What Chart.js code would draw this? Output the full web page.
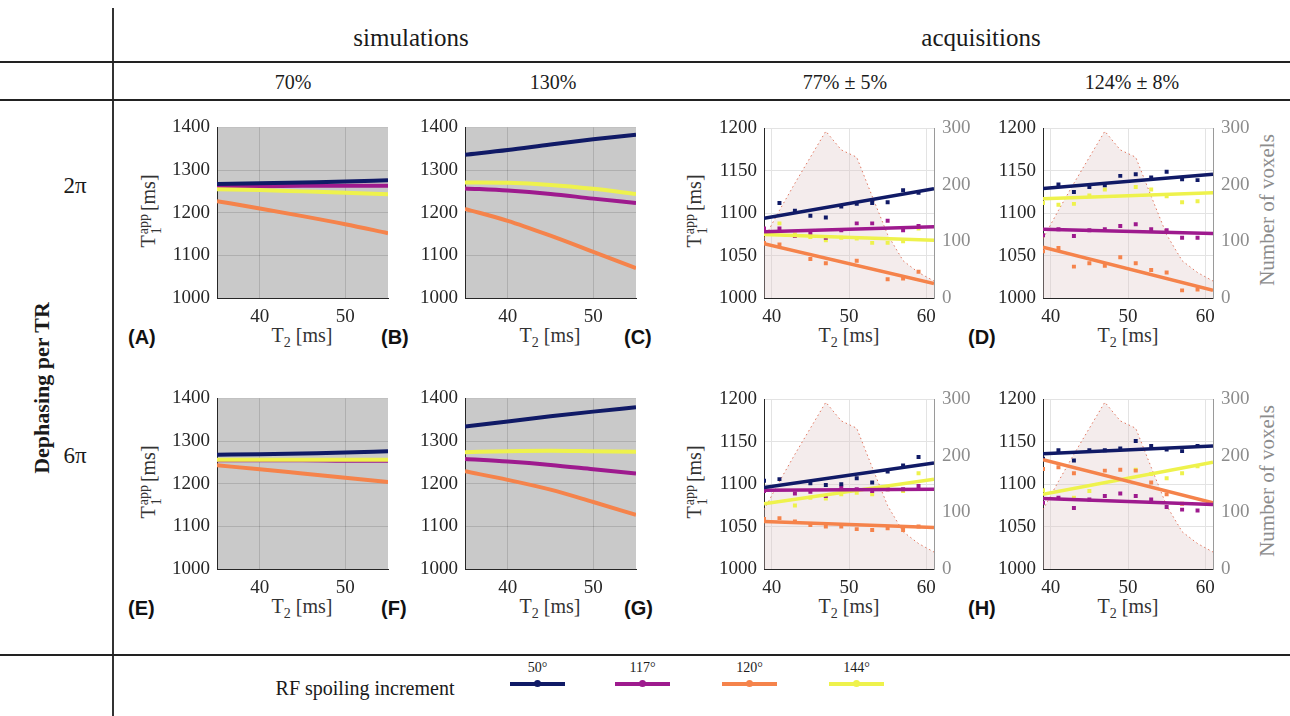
<!DOCTYPE html>
<html>
<head>
<meta charset="utf-8">
<script src="https://cdn.jsdelivr.net/npm/chart.js@4.4.1/dist/chart.umd.min.js"></script>
<style>
  body { margin: 0; background: #fff; width: 1290px; height: 716px; position: relative; overflow: hidden;
         font-family: 'Liberation Serif', 'Times New Roman', serif; color: #1a1a1a; }
  canvas { position: absolute; }
  .c { position: absolute; transform: translate(-50%, -50%); white-space: nowrap; }
  .rot { position: absolute; transform: translate(-50%, -50%) rotate(-90deg); white-space: nowrap; }
  .hline { position: absolute; left: 0; width: 1290px; height: 2px; background: #222; }
  .vline { position: absolute; width: 1.5px; background: #333; }
  .plab { position: absolute; transform: translateY(-50%); font-family: 'Liberation Sans', Arial, sans-serif; font-weight: bold; font-size: 20px; color: #111; }
  .xlab { font-size: 20px; color: #333; }
  .xlab sub { font-size: 14px; }
  .ylab { font-size: 20px; color: #333; }
  .ss { display: inline-flex; flex-direction: column; font-size: 14px; line-height: 13px; vertical-align: 7px; margin: 0 3px 0 1px; }
  .leg { position: absolute; }
  .leg .lbl { position: absolute; left: 50%; top: 0; transform: translateX(-50%); font-size: 14px; }
  .leg .ln { position: absolute; left: 0; top: 22px; width: 55px; height: 4px; }
  .leg .dot { position: absolute; left: 24px; top: 20px; width: 7px; height: 7px; border-radius: 50%; }
</style>
</head>
<body>
<div class="vline" style="left:112px; top:8px; height:708px;"></div>
<div class="hline" style="top:61px;"></div>
<div class="hline" style="top:99px;"></div>
<div class="hline" style="top:654px;"></div>

<div class="c" style="left:411px; top:38px; font-size:25px;">simulations</div>
<div class="c" style="left:981px; top:38px; font-size:25px;">acquisitions</div>
<div class="c" style="left:293px; top:82px; font-size:20px;">70%</div>
<div class="c" style="left:553px; top:82px; font-size:20px;">130%</div>
<div class="c" style="left:845px; top:82px; font-size:20px;">77% ± 5%</div>
<div class="c" style="left:1132px; top:82px; font-size:20px;">124% ± 8%</div>

<div class="rot" style="left:42px; top:388px; font-size:22px; font-weight:bold;">Dephasing per TR</div>
<div class="c" style="left:75px; top:186px; font-size:23px;">2π</div>
<div class="c" style="left:75px; top:456px; font-size:23px;">6π</div>

<div class="c" style="left:365px; top:688px; font-size:20px;">RF spoiling increment</div>
<div id="legend"></div>
<div id="labels"></div>

<script>
// ---- data ----
const angles = ['50°', '117°', '120°', '144°'];

// simulations: T2 [ms] vs apparent T1 [ms]
const simT2 = [35, 40, 45, 50, 55];
const simA_50 = [1267, 1269, 1271, 1273, 1276];
const simA_117 = [1262, 1262, 1263, 1263, 1263];
const simA_120 = [1227, 1210, 1192, 1173, 1152];
const simA_144 = [1255, 1253, 1250, 1247, 1243];

const simB_50 = [1336, 1347, 1360, 1372, 1383];
const simB_117 = [1257, 1252, 1244, 1233, 1223];
const simB_120 = [1209, 1181, 1146, 1108, 1070];
const simB_144 = [1271, 1270, 1265, 1256, 1244];

const simE_50 = [1268, 1269, 1271, 1273, 1276];
const simE_117 = [1255, 1255, 1255, 1254, 1254];
const simE_120 = [1243, 1234, 1224, 1214, 1204];
const simE_144 = [1256, 1256, 1256, 1256, 1256];

const simF_50 = [1334, 1346, 1358, 1369, 1379];
const simF_117 = [1258, 1252, 1244, 1234, 1224];
const simF_120 = [1229, 1209, 1186, 1157, 1127];
const simF_144 = [1274, 1276, 1277, 1276, 1275];

// acquisitions: binned measurements, linear fits and voxel histogram
const acqT2 = [39, 41, 43, 45, 47, 49, 51, 53, 55, 57, 59];
const fitT2 = [39, 61];
const voxelT2 = [39, 41, 43, 45, 47, 49, 51, 53, 55, 57, 59, 61];
const voxels = [105, 155, 203, 249, 295, 262, 249, 180, 112, 66, 45, 30];

const C_50 = [null, 1112, 1103, 1097, 1095, 1108, 1111, 1112, 1113, 1127, 1124];
const C_117 = [1082, 1082, 1073, 1076, 1071, 1080, 1088, 1088, 1091, 1080, 1085];
const C_120 = [1065, 1063, null, 1046, 1041, null, 1044, null, 1022, 1023, 1031];
const C_144 = [null, 1088, 1075, 1072, 1068, 1071, 1070, 1065, 1065, 1067, 1082];
const fitC_50 = [1094, 1129], fitC_117 = [1078, 1084], fitC_120 = [1064, 1017], fitC_144 = [1075, 1068];

const D_50 = [null, 1134, 1125, 1131, 1133, 1144, 1146, 1142, 1149, 1140, 1139];
const D_117 = [1074, 1081, 1073, 1080, 1081, 1085, 1087, 1081, 1080, 1071, 1071];
const D_120 = [1055, 1059, 1037, 1041, 1038, 1048, 1041, 1033, 1030, 1009, 1010];
const D_144 = [1112, 1110, 1111, 1121, 1128, null, 1131, 1128, 1120, 1113, 1114];
const fitD_50 = [1129, 1146], fitD_117 = [1081, 1076], fitD_120 = [1060, 1009], fitD_144 = [1117, 1124];

const G_50 = [1104, 1106, null, 1101, 1099, 1100, 1107, 1102, 1115, 1122, 1132];
const G_117 = [1092, null, 1089, 1091, 1086, 1096, 1094, 1092, 1094, 1094, 1098];
const G_120 = [1059, 1060, 1056, 1052, 1050, 1050, 1047, 1046, 1048, 1046, 1050];
const G_144 = [null, null, 1075, 1084, 1083, 1088, 1090, 1088, 1094, 1092, 1113];
const fitG_50 = [1096, 1125], fitG_117 = [1093, 1094], fitG_120 = [1056, 1049], fitG_144 = [1077, 1106];

const H_50 = [1130, 1140, 1128, 1140, 1140, 1142, 1151, 1145, 1141, 1139, 1145];
const H_117 = [1078, 1084, 1072, 1082, 1086, 1089, 1086, 1082, 1073, 1070, 1069];
const H_120 = [1118, 1120, 1113, null, 1116, 1117, 1116, 1102, 1088, 1077, null];
const H_144 = [1093, null, 1084, 1092, null, null, 1117, 1112, 1107, 1113, 1121];
const fitH_50 = [1136, 1145], fitH_117 = [1083, 1076], fitH_120 = [1129, 1078], fitH_144 = [1088, 1126];

// ---- styling ----
const c50 = '#101a66', c117 = '#9e1a8e', c120 = '#f5834b', c144 = '#eef24c';
Chart.defaults.font.family = 'Liberation Serif';
Chart.defaults.font.size = 19;
const tickFont = { family: 'Liberation Serif', size: 19 };
const plotH = 175;
const plain = v => String(v);

const plotBg = {
  id: 'plotBg',
  beforeDraw(chart, args, opts) {
    if (!opts.color) return;
    const a = chart.chartArea;
    chart.ctx.save();
    chart.ctx.fillStyle = opts.color;
    chart.ctx.fillRect(a.left, a.top, a.right - a.left, a.bottom - a.top);
    chart.ctx.restore();
  }
};

function placeCanvas(plotLeft, plotTop, plotW, rightW) {
  const cv = document.createElement('canvas');
  const w = 60 + plotW + rightW, h = 14 + plotH + 34;
  cv.width = w; cv.height = h;
  cv.style.width = w + 'px'; cv.style.height = h + 'px';
  cv.style.left = (plotLeft - 60) + 'px';
  cv.style.top = (plotTop - 14) + 'px';
  document.body.appendChild(cv);
  return cv;
}

function xScale(min, max, ticks, gridColor) {
  return {
    type: 'linear', min, max,
    afterBuildTicks: s => { s.ticks = ticks.map(v => ({ value: v })); },
    afterFit: s => { s.height = 34; },
    grid: { color: gridColor, drawTicks: false },
    border: { color: '#262626', width: 1 },
    ticks: { padding: 8, font: tickFont, color: '#262626', callback: plain }
  };
}

function simChart(plotLeft, plotTop, lines) {
  const cv = placeCanvas(plotLeft, plotTop, 171, 12);
  new Chart(cv, {
    type: 'line',
    data: {
      datasets: lines.map(([vals, color, order]) => ({
        data: simT2.map((x, i) => ({ x, y: vals[i] })),
        borderColor: color, borderWidth: 4, pointRadius: 0,
        cubicInterpolationMode: 'monotone', order
      }))
    },
    options: {
      responsive: false, animation: false, events: [],
      layout: { padding: { top: 14, right: 12, left: 0, bottom: 0 } },
      plugins: { legend: { display: false }, tooltip: { enabled: false }, plotBg: { color: '#c9c9c9' } },
      scales: {
        x: xScale(35, 55, [40, 50], 'rgba(0,0,0,0.13)'),
        y: {
          min: 1000, max: 1400,
          afterFit: s => { s.width = 60; },
          grid: { color: 'rgba(0,0,0,0.13)', drawTicks: false },
          border: { color: '#262626', width: 1 },
          ticks: { stepSize: 100, padding: 7, font: tickFont, color: '#262626', callback: plain }
        }
      }
    },
    plugins: [plotBg]
  });
}

function acqChart(plotLeft, plotTop, series) {
  const cv = placeCanvas(plotLeft, plotTop, 170, 50);
  const datasets = [{
    data: voxelT2.map((x, i) => ({ x, y: voxels[i] })),
    yAxisID: 'y2', fill: 'origin',
    backgroundColor: 'rgba(222,200,198,0.34)',
    borderColor: '#e0765f', borderWidth: 1, borderDash: [1.5, 3],
    pointRadius: 0, tension: 0, order: 20
  }];
  series.forEach(([pts, fit, color, order]) => {
    datasets.push({
      data: acqT2.map((x, i) => ({ x, y: pts[i] })).filter(p => p.y !== null),
      showLine: false, pointStyle: 'rect', pointRadius: 2.8,
      pointBackgroundColor: color, pointBorderWidth: 0, order: 10 + order
    });
    datasets.push({
      data: fitT2.map((x, i) => ({ x, y: fit[i] })),
      borderColor: color, borderWidth: 3.5, pointRadius: 0, order
    });
  });
  new Chart(cv, {
    type: 'line',
    data: { datasets },
    options: {
      responsive: false, animation: false, events: [],
      layout: { padding: { top: 14, right: 0, left: 0, bottom: 0 } },
      plugins: { legend: { display: false }, tooltip: { enabled: false } },
      scales: {
        x: xScale(39, 61, [40, 50, 60], '#e3e3e3'),
        y: {
          min: 1000, max: 1200,
          afterFit: s => { s.width = 60; },
          grid: { color: '#e3e3e3', drawTicks: false },
          border: { color: '#262626', width: 1 },
          ticks: { stepSize: 50, padding: 7, font: tickFont, color: '#262626', callback: plain }
        },
        y2: {
          position: 'right', min: 0, max: 300,
          afterFit: s => { s.width = 50; },
          grid: { drawOnChartArea: false, drawTicks: false },
          border: { color: '#9a9a9a', width: 1 },
          ticks: { stepSize: 100, padding: 8, font: tickFont, color: '#8c8c8c', callback: plain }
        }
      }
    }
  });
}

const row1 = 123, row2 = 394;

simChart(217, row1, [[simA_117, c117, 4], [simA_50, c50, 3], [simA_120, c120, 2], [simA_144, c144, 1]]);
simChart(465, row1, [[simB_117, c117, 4], [simB_50, c50, 3], [simB_120, c120, 2], [simB_144, c144, 1]]);
simChart(217, row2, [[simE_117, c117, 4], [simE_50, c50, 3], [simE_120, c120, 2], [simE_144, c144, 1]]);
simChart(465, row2, [[simF_117, c117, 4], [simF_50, c50, 3], [simF_120, c120, 2], [simF_144, c144, 1]]);

acqChart(764, row1, [[C_120, fitC_120, c120, 4], [C_144, fitC_144, c144, 3], [C_117, fitC_117, c117, 2], [C_50, fitC_50, c50, 1]]);
acqChart(1043, row1, [[D_120, fitD_120, c120, 4], [D_144, fitD_144, c144, 3], [D_117, fitD_117, c117, 2], [D_50, fitD_50, c50, 1]]);
acqChart(764, row2, [[G_120, fitG_120, c120, 4], [G_144, fitG_144, c144, 3], [G_117, fitG_117, c117, 2], [G_50, fitG_50, c50, 1]]);
acqChart(1043, row2, [[H_144, fitH_144, c144, 4], [H_120, fitH_120, c120, 3], [H_117, fitH_117, c117, 2], [H_50, fitH_50, c50, 1]]);

// ---- axis titles and panel letters ----
const labels = document.getElementById('labels');
const t1 = 'T<span class="ss"><span>app</span><span>1</span></span>[ms]';
const t2 = 'T<sub>2</sub> [ms]';
let html = '';
[[row1, 0], [row2, 1]].forEach(([top, r]) => {
  const ly = top + 214;
  const letters = r === 0 ? ['(A)', '(B)', '(C)', '(D)'] : ['(E)', '(F)', '(G)', '(H)'];
  [128, 381, 624, 968].forEach((x, i) => { html += `<div class="plab" style="left:${x}px; top:${ly}px;">${letters[i]}</div>`; });
  [302, 550, 849, 1128].forEach(x => { html += `<div class="c xlab" style="left:${x}px; top:${ly}px;">${t2}</div>`; });
  [150, 696].forEach(x => { html += `<div class="rot ylab" style="left:${x}px; top:${top + 88}px;">${t1}</div>`; });
  html += `<div class="rot" style="left:1267px; top:${top + 87}px; font-size:21px; color:#8c8c8c;">Number of voxels</div>`;
});
labels.innerHTML = html;

// ---- legend ----
const legend = document.getElementById('legend');
[c50, c117, c120, c144].forEach((col, i) => {
  const left = [510, 615, 722, 829][i];
  legend.innerHTML += `<div class="leg" style="left:${left}px; top:660px; width:55px;">
    <div class="lbl">${angles[i]}</div><div class="ln" style="background:${col}"></div>
    <div class="dot" style="background:${col}"></div></div>`;
});
</script>
</body>
</html>
